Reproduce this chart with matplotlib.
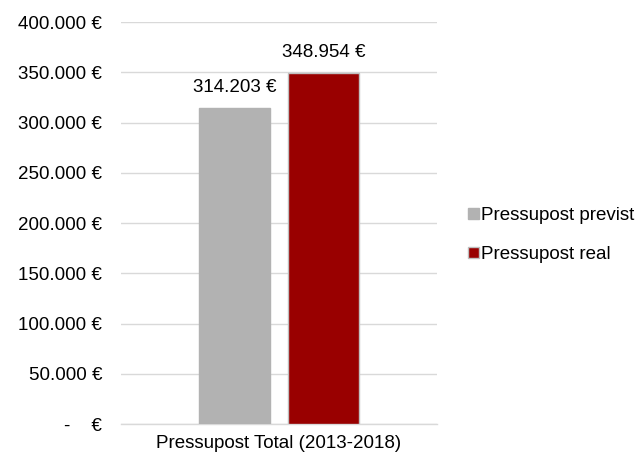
import matplotlib.pyplot as plt
from matplotlib.ticker import FuncFormatter

plt.rcParams['font.family'] = ['Liberation Sans', 'DejaVu Sans']

category = 'Pressupost Total (2013-2018)'
series = ['Pressupost previst', 'Pressupost real']
values = [314203, 348954]
colors = ['#b2b2b2', '#990000']
edges = ['#b2b2b2', '#bfbfbf']


def euro(v, pos=None):
    # accounting style: thousands with dots, zero shown as a dash
    if v == 0:
        return '-    €'
    return f'{v:,.0f} €'.replace(',', '.')


fig = plt.figure(figsize=(6.4, 4.54), dpi=100)
ax = fig.add_axes([0.189, 0.066, 0.494, 0.8855])

offsets = [-0.14, 0.14]
width = 0.225
for name, val, col, ec, off in zip(series, values, colors, edges, offsets):
    x = 0.5 + off
    ax.bar(x, val, width=width, color=col, edgecolor=ec, linewidth=1, label=name, zorder=3)
    ax.text(x, val + 12000, euro(val), ha='center', va='bottom', fontsize=13.5, color='#000000')

ax.set_xlim(0, 1)
ax.set_ylim(0, 400000)
ax.set_yticks(range(0, 400001, 50000))
ax.yaxis.set_major_formatter(FuncFormatter(euro))
ax.set_xticks([0.5])
ax.set_xticklabels([category])
ax.tick_params(axis='both', length=0, labelsize=13.5, colors='#000000')
ax.tick_params(axis='y', pad=13.5)
ax.tick_params(axis='x', pad=8)

ax.grid(axis='y', color='#d9d9d9', linewidth=1, zorder=0)
for s in ['top', 'right', 'left']:
    ax.spines[s].set_visible(False)
ax.spines['bottom'].set_color('#d9d9d9')
ax.spines['bottom'].set_linewidth(1)

ax.legend(loc='center left', bbox_to_anchor=(1.075, 0.47), frameon=False, fontsize=13.5,
          handlelength=0.55, handleheight=0.55, handletextpad=0.15, labelspacing=1.15,
          borderaxespad=0)

fig.savefig('out.png', dpi=100)
